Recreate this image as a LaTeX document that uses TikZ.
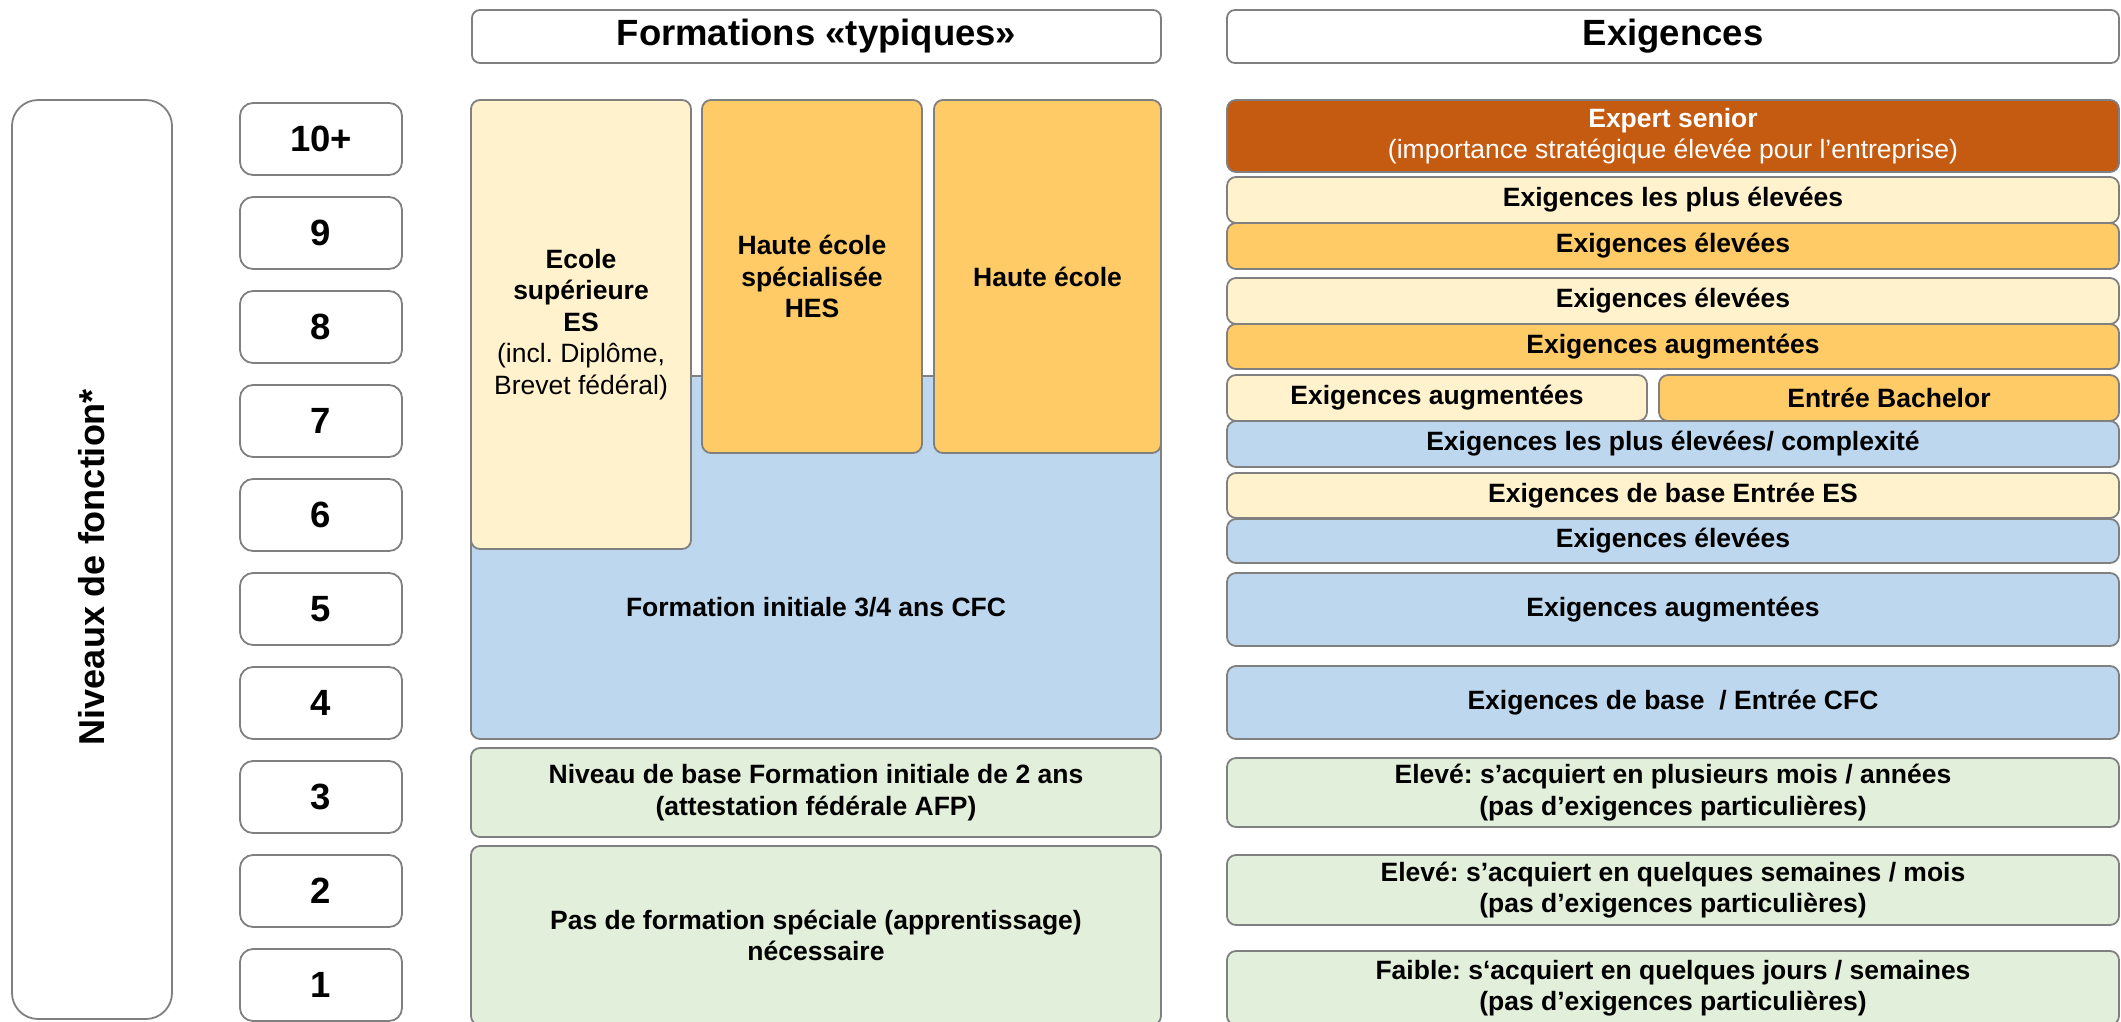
\documentclass[tikz,border=0pt]{standalone}
\usepackage{fontspec}
\setmainfont{Liberation Sans}
\frenchspacing
\definecolor{lyel}{HTML}{FFF2CC}
\definecolor{orng}{HTML}{FFCB66}
\definecolor{lblue}{HTML}{BDD7EE}
\definecolor{lgreen}{HTML}{E2EFDA}
\definecolor{dorng}{HTML}{C55A11}
\definecolor{bgray}{HTML}{808080}
\tikzset{
  box/.style={draw=bgray, line width=1.8pt, rounded corners=9pt, inner sep=0pt, align=center,
    font=\fontsize{26.5}{31.5}\selectfont\bfseries},
  at box/.style args={#1,#2,#3,#4}{minimum width={(#3-#1)*1pt}, minimum height={(#4-#2)*1pt},
    at={({(#1+#3)/2},{(#2+#4)/2})}},
  bigtxt/.style={font=\fontsize{36.5}{42}\selectfont\bfseries},
  bodytxt/.style={font=\fontsize{26.5}{31.5}\selectfont\bfseries, align=center, inner sep=0pt},
}
\begin{document}
\begin{tikzpicture}[x=1pt,y=-1pt]
\useasboundingbox (0,0) rectangle (2121,1021);
\fill[white] (0,0) rectangle (2121,1021);

% left column
\node[box, rounded corners=26pt, at box={12,100,172,1019}] (lvl) {};
\node[bigtxt, rotate=90, font=\fontsize{36}{42}\selectfont\bfseries] (lvltxt) at (92,567) {Niveaux de fonction*};

\foreach \lab [count=\i from 0] in {10+,9,8,7,6,5,4,3,2,1}{
  \pgfmathsetmacro\yt{103+94*\i}
  \pgfmathsetmacro\yb{\yt+72}
  \node[box, rounded corners=13pt, bigtxt, at box={240,\yt,402,\yb}] (n\i) {\lab};
}

% headers
\node[box, rounded corners=8pt, bigtxt, at box={472,10,1161,63}] (h1) {Formations «typiques»};
\node[box, rounded corners=8pt, bigtxt, at box={1227,10,2119,63}] (h2) {Exigences};

% formations
\node[box, fill=lblue, at box={471,376,1161,739}] (cfc) {};
\node[bodytxt] (cfctxt) at (816,607) {Formation initiale 3/4 ans CFC};
\node[box, fill=lyel, at box={471,100,691,549}] (es) {Ecole\\supérieure\\ES\\\mdseries(incl. Diplôme,\\\mdseries Brevet fédéral)};
\node[box, fill=orng, at box={702,100,922,453}] (hes) {Haute école\\spécialisée\\HES};
\node[box, fill=orng, at box={934,100,1161,453}] (he) {Haute école};
\node[box, fill=lgreen, at box={471,748,1161,837}] (afp) {Niveau de base Formation initiale de 2 ans\\(attestation fédérale AFP)};
\node[box, fill=lgreen, at box={471,846,1161,1025}] (pas) {Pas de formation spéciale (apprentissage)\\nécessaire};

% exigences
\node[box, fill=dorng, text=white, at box={1227,100,2119,172}] (r10) {Expert senior\\\mdseries(importance stratégique élevée pour l’entreprise)};
\node[box, fill=lyel, at box={1227,177,2119,223}] (r9a) {Exigences les plus élevées};
\node[box, fill=orng, at box={1227,223,2119,269}] (r9b) {Exigences élevées};
\node[box, fill=lyel, at box={1227,278,2119,324}] (r8a) {Exigences élevées};
\node[box, fill=orng, at box={1227,324,2119,369}] (r8b) {Exigences augmentées};
\node[box, fill=lyel, at box={1227,375,1647,421}] (r7a) {Exigences augmentées};
\node[box, fill=orng, at box={1659,375,2119,421}] (r7b) {Entrée Bachelor};
\node[box, fill=lblue, at box={1227,421,2119,467}] (r7c) {Exigences les plus élevées/ complexité};
\node[box, fill=lyel, at box={1227,473,2119,518}] (r6a) {Exigences de base Entrée ES};
\node[box, fill=lblue, at box={1227,519,2119,563}] (r6b) {Exigences élevées};
\node[box, fill=lblue, at box={1227,573,2119,646}] (r5) {Exigences augmentées};
\node[box, fill=lblue, at box={1227,666,2119,739}] (r4) {Exigences de base~~/ Entrée CFC};
\node[box, fill=lgreen, at box={1227,758,2119,827}] (r3) {Elevé: s’acquiert en plusieurs mois / années\\(pas d’exigences particulières)};
\node[box, fill=lgreen, at box={1227,855,2119,925}] (r2) {Elevé: s’acquiert en quelques semaines / mois\\(pas d’exigences particulières)};
\node[box, fill=lgreen, at box={1227,951,2119,1025}] (r1) {Faible: s‘acquiert en quelques jours / semaines\\(pas d’exigences particulières)};
\end{tikzpicture}
\end{document}
